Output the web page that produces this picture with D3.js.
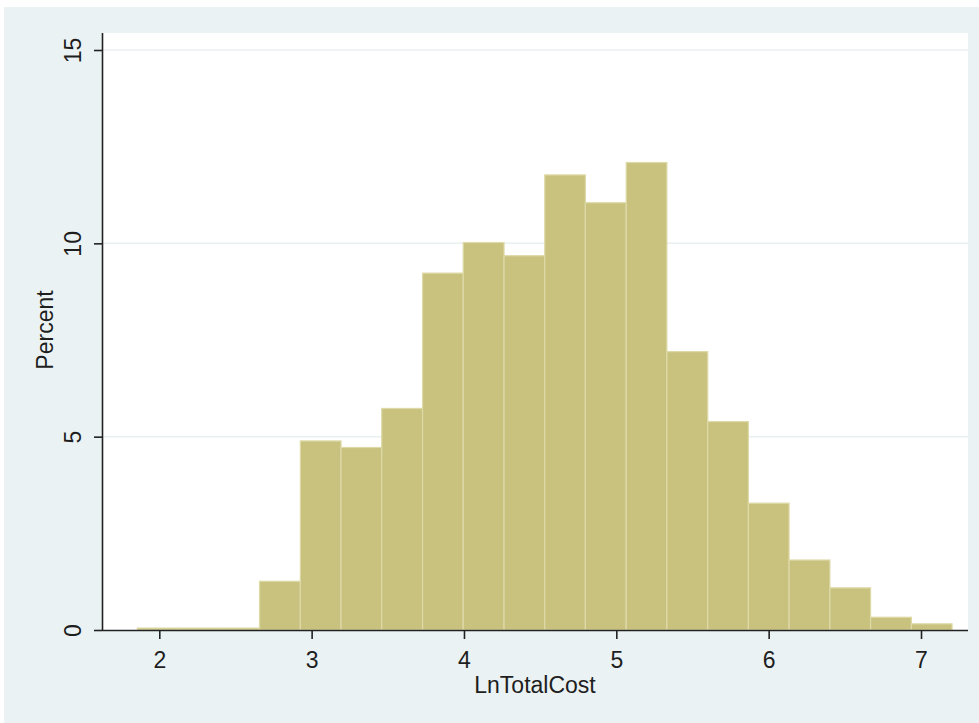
<!DOCTYPE html>
<html>
<head>
<meta charset="utf-8">
<script src="https://cdn.jsdelivr.net/npm/d3@7"></script>
<style>
  html, body { margin: 0; padding: 0; background: #ffffff; }
  svg { display: block; }
  text { font-family: "Liberation Sans", Arial, sans-serif; fill: #1e1e1e; }
</style>
</head>
<body>
<svg id="chart" width="979" height="723"></svg>
<script>
// ---- data ----
const binEdges = [1.856, 2.123, 2.391, 2.658, 2.926, 3.193, 3.460, 3.728, 3.995, 4.263,
                  4.530, 4.797, 5.065, 5.332, 5.600, 5.867, 6.134, 6.402, 6.669, 6.937, 7.204];
const percents = [0.05, 0.05, 0.05, 1.26, 4.89, 4.72, 5.73, 9.23, 10.02, 9.68,
                  11.77, 11.05, 12.09, 7.20, 5.39, 3.28, 1.81, 1.09, 0.33, 0.16];
const xTicks = [2, 3, 4, 5, 6, 7];
const yTicks = [0, 5, 10, 15];
const xTitle = "LnTotalCost";
const yTitle = "Percent";

const bins = percents.map((p, i) => ({ x0: binEdges[i], x1: binEdges[i + 1], pct: p }));

// ---- layout ----
const svg = d3.select("#chart");
const plotLeft = 102, plotRight = 968, plotTop = 33, plotBottom = 630;

const x = d3.scaleLinear().domain([1.6239, 7.3085]).range([plotLeft, plotRight]);
const y = d3.scaleLinear().domain([0, 15]).range([plotBottom, 50]);

// graph region background
svg.append("rect").attr("x", 4).attr("y", 7).attr("width", 975).attr("height", 716)
  .attr("fill", "#EAF2F3");
// plot region
svg.append("rect").attr("x", plotLeft).attr("y", plotTop)
  .attr("width", plotRight - plotLeft).attr("height", plotBottom - plotTop)
  .attr("fill", "#ffffff");

// gridlines
svg.append("g").selectAll("line").data(yTicks.filter(d => d > 0)).join("line")
  .attr("x1", plotLeft).attr("x2", plotRight)
  .attr("y1", d => y(d)).attr("y2", d => y(d))
  .attr("stroke", "#E8F0F2").attr("stroke-width", 1.5);

// bars
svg.append("g").selectAll("rect").data(bins).join("rect")
  .attr("x", d => x(d.x0))
  .attr("width", d => x(d.x1) - x(d.x0))
  .attr("y", d => y(d.pct))
  .attr("height", d => y(0) - y(d.pct))
  .attr("fill", "#C9C27F")
  .attr("stroke", "#DEDAA8")
  .attr("stroke-width", 1.2);

// x axis
const xAxis = d3.axisBottom(x).tickValues(xTicks).tickSize(9).tickPadding(10).tickFormat(d3.format("d"));
const gx = svg.append("g").attr("transform", `translate(0,${plotBottom})`).call(xAxis);
gx.select(".domain").attr("d", `M${plotLeft},0.5H${plotRight}`).attr("stroke", "#222").attr("stroke-width", 1.6);
gx.selectAll(".tick line").attr("stroke", "#222").attr("stroke-width", 1.6);
gx.selectAll(".tick text").attr("font-size", 23).attr("font-family", "Liberation Sans, Arial, sans-serif")
  .attr("fill", "#1e1e1e").attr("dy", null).attr("y", 38);

// y axis
const yAxis = d3.axisLeft(y).tickValues(yTicks).tickSize(8).tickFormat(d3.format("d"));
const gy = svg.append("g").attr("transform", `translate(${plotLeft},0)`).call(yAxis);
gy.select(".domain").attr("d", `M0.5,${plotTop}V${plotBottom}`).attr("stroke", "#222").attr("stroke-width", 1.6);
gy.selectAll(".tick line").attr("stroke", "#222").attr("stroke-width", 1.6);
gy.selectAll(".tick text")
  .attr("font-size", 23).attr("font-family", "Liberation Sans, Arial, sans-serif").attr("fill", "#1e1e1e")
  .attr("x", null).attr("dy", null).attr("text-anchor", "middle")
  .attr("transform", "translate(-21,0) rotate(-90)");

// titles
svg.append("text").attr("x", (plotLeft + plotRight) / 2).attr("y", 693)
  .attr("text-anchor", "middle").attr("font-size", 23).text(xTitle);
svg.append("text").attr("transform", "translate(53,330) rotate(-90)")
  .attr("text-anchor", "middle").attr("font-size", 23).text(yTitle);
</script>
</body>
</html>
